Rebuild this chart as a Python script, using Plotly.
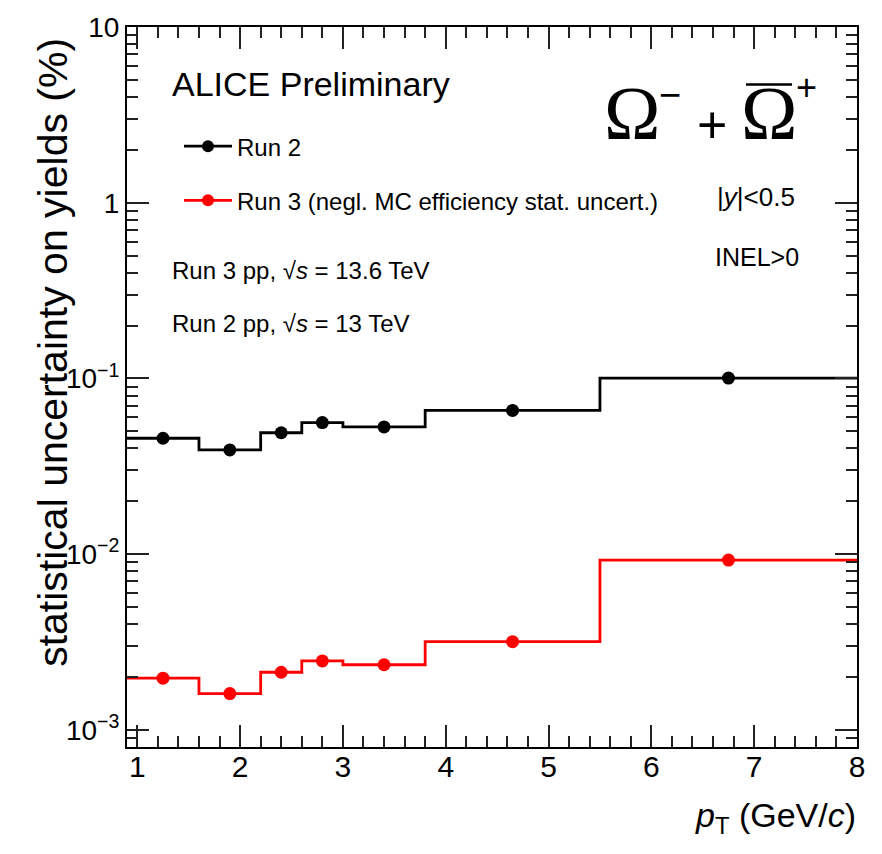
import plotly.graph_objects as go

# pT binning (GeV/c) and statistical uncertainty on the yields (%)
pt_edges = [0.9, 1.6, 2.2, 2.6, 3.0, 3.8, 5.5, 8.0]
run2_unc = [0.0457, 0.0392, 0.0491, 0.0561, 0.0530, 0.0658, 0.1005]
run3_unc = [0.00197, 0.00161, 0.00213, 0.00247, 0.00235, 0.00318, 0.00926]

y_tickvals = [1e-3, 1e-2, 1e-1, 1, 10]
y_ticktext = ["10<sup>−3</sup>", "10<sup>−2</sup>", "10<sup>−1</sup>", "1", "10"]

W, H = 882, 854
M_L, M_R, M_T, M_B = 127, 25, 20, 107
PW, PH = W - M_L - M_R, H - M_T - M_B

SANS = "Liberation Sans, Arial, Helvetica, sans-serif"
SERIF = "Liberation Serif, Times New Roman, serif"


def px(x):
    return (x - M_L) / PW


def py(y):
    return (M_T + PH - y) / PH


centers = [(a + b) / 2 for a, b in zip(pt_edges[:-1], pt_edges[1:])]

fig = go.Figure()


def add_series(vals, color, name, group):
    # histogram outline
    fig.add_trace(go.Scatter(
        x=pt_edges, y=vals + [vals[-1]], mode="lines",
        line=dict(color=color, width=2.8, shape="hv"),
        showlegend=False, hoverinfo="skip"))
    # bin-centre markers
    fig.add_trace(go.Scatter(
        x=centers, y=vals, mode="markers",
        marker=dict(color=color, size=13, symbol="circle"),
        showlegend=False))
    # legend key
    fig.add_trace(go.Scatter(
        x=[None], y=[None], mode="lines+markers", name=name,
        legendgroup=group,
        line=dict(color=color, width=2.8),
        marker=dict(color=color, size=12)))


add_series(run2_unc, "#000000", "Run 2", "a")
add_series(run3_unc, "#ff0000", "Run 3 (negl. MC efficiency stat. uncert.)", "b")

minor_y = [m * 10 ** e for e in range(-4, 1) for m in range(2, 10)]
minor_x = [round(1 + 0.2 * i, 2) for i in range(36) if i % 5 != 0]

fig.update_xaxes(
    range=[0.9, 8.0], showgrid=False, zeroline=False,
    showline=True, linecolor="black", linewidth=2, mirror="ticks",
    ticks="inside", ticklen=22, tickwidth=1.5, tickcolor="#222",
    tickvals=[1, 2, 3, 4, 5, 6, 7, 8], ticklabelstandoff=-8,
    tickfont=dict(family=SANS, size=30, color="black"),
    minor=dict(tickvals=minor_x, ticks="inside", ticklen=11, tickwidth=1.5, tickcolor="#222"),
)
fig.update_yaxes(
    type="log", range=[-3.097, 1.0], showgrid=False, zeroline=False,
    showline=True, linecolor="black", linewidth=2, mirror="ticks",
    ticks="inside", ticklen=22, tickwidth=1.5, tickcolor="#222",
    tickvals=y_tickvals, ticktext=y_ticktext,
    tickfont=dict(family=SANS, size=28, color="black"),
    minor=dict(tickvals=minor_y, ticks="inside", ticklen=11, tickwidth=1.5, tickcolor="#222"),
)

ann = []
# axis titles
ann.append(dict(text="statistical uncertainty on yields (%)", textangle=-90,
                x=px(53), y=py(349), xanchor="center", yanchor="middle",
                font=dict(family=SANS, size=41, color="black")))
ann.append(dict(text="<i>p</i><sub>T</sub> (GeV/<i>c</i>)",
                x=px(858), y=py(818), xanchor="right", yanchor="middle",
                font=dict(family=SANS, size=34, color="black")))
# labels inside the frame
ann.append(dict(text="ALICE Preliminary", x=px(170), y=py(78), xanchor="left", yanchor="middle",
                font=dict(family=SANS, size=34, color="black")))
ann.append(dict(text="Run 3 pp, √<i>s</i> = 13.6 TeV", x=px(170), y=py(266), xanchor="left",
                yanchor="middle", font=dict(family=SANS, size=24, color="black")))
ann.append(dict(text="Run 2 pp, √<i>s</i> = 13 TeV", x=px(170), y=py(319), xanchor="left",
                yanchor="middle", font=dict(family=SANS, size=24, color="black")))
ann.append(dict(text="|<i>y</i>|&lt;0.5", x=px(756), y=py(192), xanchor="center",
                yanchor="middle", font=dict(family=SANS, size=26, color="black")))
ann.append(dict(text="INEL&gt;0", x=px(757), y=py(252), xanchor="center",
                yanchor="middle", font=dict(family=SANS, size=25, color="black")))
# particle label: Omega^- + anti-Omega^+
ann.append(dict(text="Ω", x=px(632), y=py(107), xanchor="center", yanchor="middle",
                font=dict(family=SERIF, size=76, color="black")))
ann.append(dict(text="−", x=px(670), y=py(89), xanchor="center", yanchor="middle",
                font=dict(family=SANS, size=38, color="black")))
ann.append(dict(text="+", x=px(712), y=py(119), xanchor="center", yanchor="middle",
                font=dict(family=SANS, size=52, color="black")))
ann.append(dict(text="Ω", x=px(769), y=py(107), xanchor="center", yanchor="middle",
                font=dict(family=SERIF, size=76, color="black")))
ann.append(dict(text="+", x=px(806), y=py(81), xanchor="center", yanchor="middle",
                font=dict(family=SANS, size=36, color="black")))
for a in ann:
    a.update(xref="paper", yref="paper", showarrow=False)

fig.update_layout(
    width=W, height=H,
    margin=dict(l=M_L, r=M_R, t=M_T, b=M_B),
    paper_bgcolor="white", plot_bgcolor="white",
    annotations=ann,
    shapes=[dict(type="line", xref="paper", yref="paper",
                 x0=px(746), x1=px(792), y0=py(78), y1=py(78),
                 line=dict(color="black", width=2.5))],
    legend=dict(x=px(179), y=py(118), xanchor="left", yanchor="top",
                bgcolor="rgba(0,0,0,0)", traceorder="grouped", tracegroupgap=20,
                itemwidth=48,
                font=dict(family=SANS, size=24, color="black")),
)

fig.write_html("out.html")
